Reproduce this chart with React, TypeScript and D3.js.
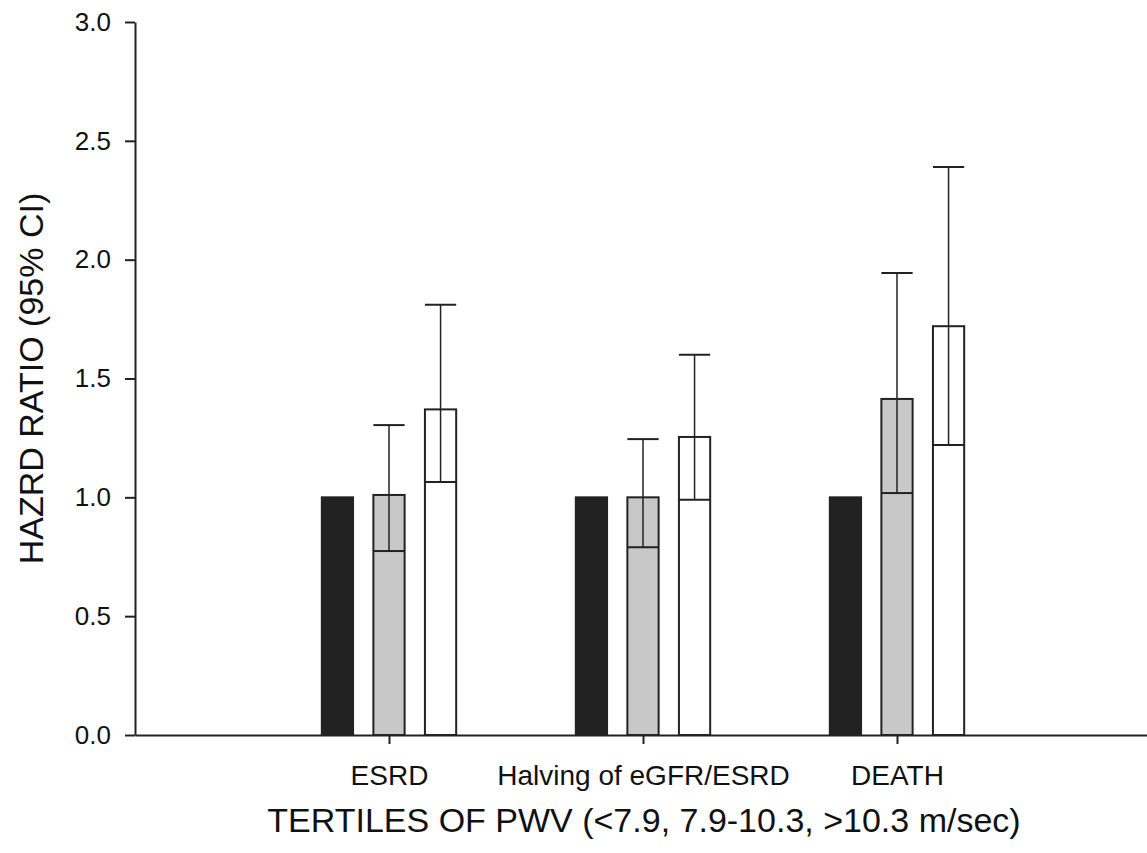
import { useEffect, useRef } from "react";
import * as d3 from "d3";

// outcomes on the x axis
const categories = ["ESRD", "Halving of eGFR/ESRD", "DEATH"];
// tertiles of PWV: lowest (reference), middle, highest
const tertiles = ["T1", "T2", "T3"];
const fills = ["#222222", "#c8c8c8", "#ffffff"];

// hazard ratios, one row per outcome, one column per tertile
const hazard = [
  [1.0, 1.01, 1.37],
  [1.0, 1.0, 1.254],
  [1.0, 1.414, 1.72],
];
const lowerCI = [
  [null, 0.774, 1.064],
  [null, 0.79, 0.99],
  [null, 1.018, 1.22],
];
const upperCI = [
  [null, 1.304, 1.81],
  [null, 1.245, 1.6],
  [null, 1.944, 2.39],
];
const yTicks = [0, 0.5, 1.0, 1.5, 2.0, 2.5, 3.0];

export default function App() {
  const svgRef = useRef<SVGSVGElement>(null);

  useEffect(() => {
    const width = 1147,
      height = 853;
    const margin = { top: 22, left: 135, bottom: 118 };
    const font = "'Liberation Sans', Arial, sans-serif";

    const svg = d3.select(svgRef.current);
    svg.selectAll("*").remove();
    svg.attr("width", width).attr("height", height);

    const y = d3
      .scaleLinear()
      .domain([0, 3])
      .range([height - margin.bottom, margin.top]);
    // group positions 1..3 on a 0..4 axis
    const x = d3.scaleLinear().domain([0, 4]).range([margin.left, 1151]);
    const offset = 0.203,
      barW = x(0.123) - x(0);

    // y axis
    const yAxis = svg
      .append("g")
      .attr("transform", `translate(${margin.left},0)`)
      .call(
        d3
          .axisLeft(y)
          .tickValues(yTicks)
          .tickFormat(d3.format(".1f"))
          .tickSize(10)
          .tickPadding(14)
          .tickSizeOuter(0)
      );
    yAxis.select(".domain").attr("stroke", "#222").attr("stroke-width", 2);
    yAxis.selectAll(".tick line").attr("stroke", "#222").attr("stroke-width", 2);
    yAxis
      .selectAll(".tick text")
      .attr("fill", "#111")
      .style("font-family", font)
      .style("font-size", "26px");

    // x axis
    const xAxis = svg
      .append("g")
      .attr("transform", `translate(0,${y(0)})`)
      .call(
        d3
          .axisBottom(x)
          .tickValues([1, 2, 3])
          .tickFormat((d) => categories[+d - 1])
          .tickSize(9)
          .tickPadding(21)
          .tickSizeOuter(0)
      );
    xAxis.select(".domain").attr("stroke", "#222").attr("stroke-width", 2);
    xAxis.selectAll(".tick line").attr("stroke", "#222").attr("stroke-width", 2);
    xAxis
      .selectAll(".tick text")
      .attr("fill", "#111")
      .style("font-family", font)
      .style("font-size", "28px");

    // bars
    const g = svg.append("g");
    categories.forEach((c, i) => {
      tertiles.forEach((t, j) => {
        const cx = x(i + 1 + (j - 1) * offset);
        const v = hazard[i][j];
        g.append("rect")
          .attr("x", cx - barW / 2)
          .attr("y", y(v))
          .attr("width", barW)
          .attr("height", y(0) - y(v))
          .attr("fill", fills[j])
          .attr("stroke", "#222")
          .attr("stroke-width", 2);
        const lo = lowerCI[i][j],
          hi = upperCI[i][j];
        if (lo == null || hi == null) return;
        g.append("line")
          .attr("x1", cx)
          .attr("x2", cx)
          .attr("y1", y(lo))
          .attr("y2", y(hi))
          .attr("stroke", "#222")
          .attr("stroke-width", 1.5);
        [lo, hi].forEach((e) =>
          g
            .append("line")
            .attr("x1", cx - barW / 2)
            .attr("x2", cx + barW / 2)
            .attr("y1", y(e))
            .attr("y2", y(e))
            .attr("stroke", "#222")
            .attr("stroke-width", 2)
        );
      });
    });

    // axis titles
    svg
      .append("text")
      .attr("transform", `translate(43,${(y(0) + y(3)) / 2}) rotate(-90)`)
      .attr("text-anchor", "middle")
      .attr("fill", "#111")
      .style("font-family", font)
      .style("font-size", "34px")
      .text("HAZRD RATIO (95% CI)");

    svg
      .append("text")
      .attr("x", 644)
      .attr("y", 832)
      .attr("text-anchor", "middle")
      .attr("fill", "#111")
      .style("font-family", font)
      .style("font-size", "34px")
      .text("TERTILES OF PWV (<7.9, 7.9-10.3, >10.3 m/sec)");
  }, []);

  return (
    <svg
      ref={svgRef}
      style={{ position: "absolute", left: 0, top: 0, background: "#fff" }}
    />
  );
}
